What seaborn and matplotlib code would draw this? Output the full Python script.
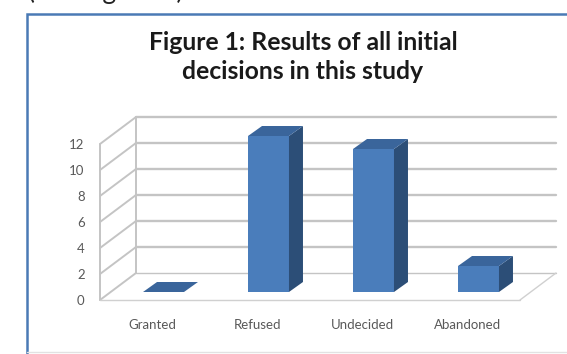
import matplotlib
matplotlib.use("Agg")
import matplotlib.pyplot as plt
import seaborn as sns
from matplotlib.patches import Polygon, Rectangle
from matplotlib.lines import Line2D

categories = ["Granted", "Refused", "Undecided", "Abandoned"]
counts = [0, 12, 11, 2]
y_ticks = [0, 2, 4, 6, 8, 10, 12]
title = "Figure 1: Results of all initial\ndecisions in this study"
top_note = "(see Figure 1)"

sns.set_style("white")
plt.rcParams["font.family"] = ["Lato", "DejaVu Sans"]

front_col = "#4a7dbb"
side_col = "#2c4e77"
top_col = "#3a659b"
grid_col = "#c4c4c4"
text_col = "#595959"

W, H = 567, 354
fig = plt.figure(figsize=(W / 100, H / 100), dpi=100)

# 1 category = 105 px, 1 unit of value = 13 px
px_x, px_y = 105.0, 13.0
ax_left, ax_right, ax_bottom, ax_top = 100, 557, 300, 110
ax = fig.add_axes([ax_left / W, (H - ax_bottom) / H,
                   (ax_right - ax_left) / W, (ax_bottom - ax_top) / H])

sns.barplot(x=categories, y=counts, color=front_col, width=0.39,
            saturation=1, linewidth=0, ax=ax, zorder=3)

ax.set_xlim(-0.5, -0.5 + (ax_right - ax_left) / px_x)
ax.set_ylim(0, (ax_bottom - ax_top) / px_y)

# depth of the wall and of the bars (data units)
dep_x, dep_y = 36 / px_x, 27 / px_y
off_x, off_y = 11 / px_x, 8 / px_y
bar_dx, bar_dy = 14 / px_x, 10 / px_y

x_lo, x_hi = -0.5, len(categories) - 0.5

# back wall grid lines
for v in y_ticks:
    lw = 1.0 if v == 0 else 1.7
    ax.plot([x_lo + dep_x, x_hi + dep_x], [v + dep_y, v + dep_y],
            color=grid_col, lw=lw, zorder=1, clip_on=False)
    ax.plot([x_lo, x_lo + dep_x], [v, v + dep_y], color=grid_col, lw=1.4,
            zorder=1, clip_on=False)
ax.plot([x_lo, x_lo], [0, y_ticks[-1]], color=grid_col, lw=1.4, zorder=1, clip_on=False)
ax.plot([x_lo + dep_x, x_lo + dep_x], [dep_y, y_ticks[-1] + dep_y],
        color=grid_col, lw=1.4, zorder=1, clip_on=False)
# floor
ax.plot([x_lo, x_hi], [0, 0], color="#d0d0d0", lw=1.0, zorder=1, clip_on=False)
ax.plot([x_hi, x_hi + dep_x], [0, dep_y], color="#d0d0d0", lw=1.0, zorder=1, clip_on=False)

# 3d faces of the bars
for p in list(ax.patches):
    x0 = p.get_x() + off_x
    y0 = p.get_y() + off_y
    w, h = p.get_width(), p.get_height()
    p.set_x(x0)
    p.set_y(y0)
    x1, y1 = x0 + w, y0 + h
    side = Polygon([(x1, y0), (x1 + bar_dx, y0 + bar_dy),
                    (x1 + bar_dx, y1 + bar_dy), (x1, y1)],
                   closed=True, facecolor=side_col, lw=0, zorder=3)
    top = Polygon([(x0, y1), (x0 + bar_dx, y1 + bar_dy),
                   (x1 + bar_dx, y1 + bar_dy), (x1, y1)],
                  closed=True, facecolor=top_col, lw=0, zorder=3)
    ax.add_patch(side)
    ax.add_patch(top)

ax.set_yticks(y_ticks)
ax.set_xticks(range(len(categories)))
ax.set_xticklabels(categories)
ax.set_xlabel("")
ax.set_ylabel("")
ax.tick_params(axis="y", length=0, pad=11, labelsize=9.5, labelcolor=text_col)
ax.tick_params(axis="x", length=0, pad=14, labelsize=9.5, labelcolor=text_col)
sns.despine(ax=ax, left=True, bottom=True)

fig.text(303 / W, 1 - 57 / H, title, ha="center", va="center",
         fontsize=17.8, fontweight="bold", color="#1a1a1a", linespacing=1.28)

# chart frame
fig.add_artist(Rectangle((27 / W, -0.2), 1.2, 1.2 - 14 / H, transform=fig.transFigure,
                         fill=False, edgecolor="#4a7ab5", lw=1.8, clip_on=False))
fig.add_artist(Line2D([27 / W, 1], [2 / H, 2 / H], color="#e2e2e2", lw=1))

fig.text(28 / W, 1 + 1 / H, top_note, va="baseline", ha="left", fontsize=19,
         color="#222222")

fig.savefig("out.png", dpi=100)
